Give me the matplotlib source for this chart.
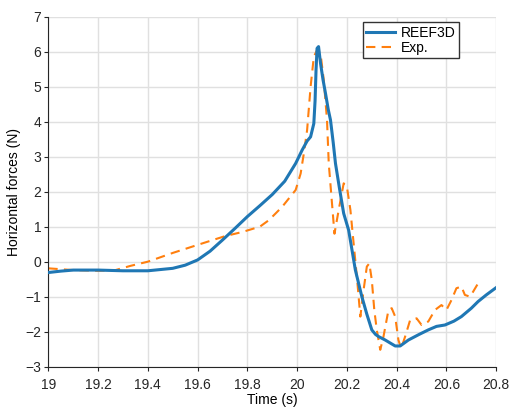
import matplotlib
matplotlib.use('Agg')
import matplotlib.pyplot as plt

plt.rcParams['font.family'] = ['Liberation Sans', 'DejaVu Sans']

# REEF3D simulation
reef_t = [19.0, 19.05, 19.1, 19.2, 19.3, 19.4, 19.5, 19.55, 19.6, 19.65, 19.7,
          19.75, 19.8, 19.85, 19.9, 19.95, 19.994, 20.02, 20.04, 20.054, 20.067,
          20.072, 20.076, 20.08, 20.086, 20.094, 20.104, 20.114, 20.125, 20.134,
          20.145, 20.154, 20.17, 20.187, 20.207, 20.234, 20.26, 20.28, 20.3,
          20.315, 20.327, 20.354, 20.375, 20.394, 20.414, 20.447, 20.49, 20.527,
          20.56, 20.594, 20.63, 20.66, 20.7, 20.727, 20.76, 20.8]
reef_f = [-0.31, -0.27, -0.24, -0.24, -0.26, -0.26, -0.19, -0.10, 0.05, 0.30, 0.62,
          0.95, 1.29, 1.60, 1.92, 2.30, 2.81, 3.19, 3.45, 3.57, 3.95,
          4.6, 5.5, 6.1, 6.15, 5.67, 5.2, 4.81, 4.35, 4.05,
          3.4, 2.81, 2.1, 1.38, 0.9, -0.24, -1.0, -1.5, -1.95,
          -2.08, -2.14, -2.24, -2.33, -2.41, -2.41, -2.24, -2.08, -1.95,
          -1.85, -1.81, -1.70, -1.57, -1.33, -1.14, -0.95, -0.74]

# Experimental measurements
exp_t = [19.0, 19.1, 19.2, 19.27, 19.33, 19.4, 19.5, 19.6, 19.71, 19.78, 19.85,
         19.887, 19.94, 19.994, 20.014, 20.027, 20.04, 20.054, 20.067, 20.08,
         20.094, 20.107, 20.12, 20.127, 20.14, 20.15, 20.167, 20.187, 20.2,
         20.214, 20.227, 20.24, 20.254, 20.267, 20.28, 20.29, 20.3, 20.31, 20.32,
         20.334, 20.347, 20.367, 20.38, 20.394, 20.407, 20.418, 20.434, 20.454,
         20.48, 20.5, 20.527, 20.554, 20.58, 20.6, 20.62, 20.64, 20.66, 20.674,
         20.694, 20.707, 20.727]
exp_f = [-0.19, -0.24, -0.26, -0.24, -0.12, 0.0, 0.25, 0.48, 0.73, 0.85, 1.0,
         1.19, 1.57, 2.05, 2.52, 3.1, 3.76, 5.0, 5.86, 6.05,
         5.95, 5.19, 4.05, 2.81, 1.67, 0.8, 1.48, 2.24, 2.14,
         1.48, 0.52, -0.43, -1.57, -0.81, -0.14, -0.05, -0.52, -1.38, -1.95,
         -2.52, -2.14, -1.38, -1.33, -1.57, -2.24, -2.48, -2.14, -1.67,
         -1.62, -1.81, -1.71, -1.38, -1.24, -1.38, -1.1, -0.76, -0.71, -0.95,
         -1.0, -0.86, -0.62]

x_ticks = [19, 19.2, 19.4, 19.6, 19.8, 20, 20.2, 20.4, 20.6, 20.8]
x_labels = ['19', '19.2', '19.4', '19.6', '19.8', '20', '20.2', '20.4', '20.6', '20.8']
y_ticks = list(range(-3, 8))

fig = plt.figure(figsize=(5.09, 4.11), dpi=100)
ax = fig.add_axes([0.0949, 0.108, 0.88, 0.851])

ax.plot(reef_t, reef_f, color='#1f77b4', lw=2.2, label='REEF3D', zorder=3)
ax.plot(exp_t, exp_f, color='#ff7f0e', lw=1.5, ls=(0, (4.5, 3)), label='Exp.', zorder=2)

ax.set_xlim(19, 20.8)
ax.set_ylim(-3, 7)
ax.set_xticks(x_ticks)
ax.set_xticklabels(x_labels)
ax.set_yticks(y_ticks)
ax.grid(True, color='#e0e0e0', lw=1.0)
ax.set_axisbelow(True)
for s in ['top', 'right']:
    ax.spines[s].set_visible(False)
for s in ['left', 'bottom']:
    ax.spines[s].set_color('#262626')
ax.tick_params(labelsize=10, length=3, color='#262626', labelcolor='#262626')
ax.tick_params(axis='x', pad=5)
ax.tick_params(axis='y', pad=2)
ax.set_xlabel('Time (s)', fontsize=10, labelpad=1)
ax.set_ylabel('Horizontal forces (N)', fontsize=10, labelpad=3)

leg = ax.legend(loc='upper right', bbox_to_anchor=(0.917, 0.985), fontsize=10,
                fancybox=False, framealpha=1, edgecolor='#333333',
                handlelength=2.1, borderpad=0.25, labelspacing=0.1,
                handletextpad=0.4, borderaxespad=0)
leg.get_frame().set_linewidth(1.0)

fig.savefig('out.png', dpi=100, facecolor='white')
